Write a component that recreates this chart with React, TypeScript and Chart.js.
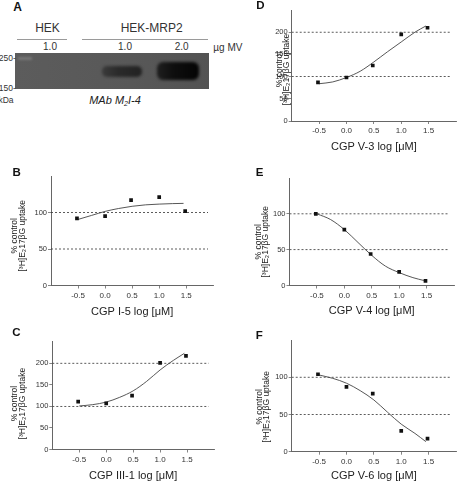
import React, { useEffect, useRef } from 'react';
import { Chart, registerables } from 'chart.js';

Chart.register(...registerables);

const FONT = "'Liberation Sans', Arial, Helvetica, sans-serif";
Chart.defaults.font.family = FONT;

// ---------- data ----------
const xTickValues = [-0.5, 0, 0.5, 1, 1.5];
const doseLog = [-0.52, 0, 0.48, 1, 1.48];
const fitX = [-0.5, -0.25, 0, 0.25, 0.5, 0.75, 1, 1.25, 1.45];
const refLineX = [-1, 1.9];
const yTicks150 = [0, 50, 100];
const yTicks250 = [0, 50, 100, 150, 200];
const yTitleLines = ['% control', '[³H]E₂17βG uptake'];

const uptakeB = [92, 95, 117, 121, 102];
const fitB = [90.5, 96, 101.5, 105.5, 108.5, 110.5, 111.5, 112.2, 112.5];
const refB = [50, 100];

const uptakeC = [111, 107, 125, 201, 217];
const fitC = [101, 104, 110, 121, 136, 158, 184.5, 207, 223];
const refC = [100, 200];

const uptakeD = [87, 98, 125, 195, 210];
const fitD = [84, 88, 98, 112, 133, 156, 178, 200, 214];
const refD = [100, 200];

const uptakeE = [100, 78, 44, 19, 6.5];
const fitE = [100, 92, 78, 60, 42, 27, 18, 11, 7];
const refE = [50, 100];

const uptakeF = [104, 87, 78, 28, 17.5];
const fitF = [103, 98.5, 92, 82, 69.5, 53, 37, 24.6, 13.5];
const refF = [50, 100];

const blotLanes = ['1.0', '1.0', '2.0'];

type Rect = { x: number; y: number; w: number; h: number };
type Area = { l: number; r: number; t: number; b: number };
type Panel = {
  key: string;
  xTitle: string;
  values: number[];
  fit: number[];
  refs: number[];
  yMax: number;
  yTicks: number[];
  canvas: Rect;
  area: Area;
  titlePad: number;
  yTitleX: number;
  yTitleDy: number;
  letter: { x: number; y: number };
};

const panels: Panel[] = [
  {
    key: 'D', xTitle: 'CGP V-3 log [μM]', values: uptakeD, fit: fitD, refs: refD,
    yMax: 250, yTicks: yTicks250,
    canvas: { x: 230, y: 0, w: 230, h: 160 },
    area: { l: 291.7, r: 456.7, t: 10, b: 121 },
    titlePad: 6, yTitleX: 279.5, yTitleDy: 4, letter: { x: 260.3, y: 5.6 },
  },
  {
    key: 'B', xTitle: 'CGP I-5 log [μM]', values: uptakeB, fit: fitB, refs: refB,
    yMax: 150, yTicks: yTicks150,
    canvas: { x: 0, y: 160, w: 230, h: 160 },
    area: { l: 51, r: 213.3, t: 176, b: 285.5 },
    titlePad: 1.1, yTitleX: 15, yTitleDy: 5, letter: { x: 16.7, y: 172.7 },
  },
  {
    key: 'E', xTitle: 'CGP V-4 log [μM]', values: uptakeE, fit: fitE, refs: refE,
    yMax: 150, yTicks: yTicks150,
    canvas: { x: 230, y: 160, w: 230, h: 160 },
    area: { l: 289.5, r: 454, t: 178, b: 285.5 },
    titlePad: 2.7, yTitleX: 258.3, yTitleDy: 10, letter: { x: 259.7, y: 172.7 },
  },
  {
    key: 'C', xTitle: 'CGP III-1 log [μM]', values: uptakeC, fit: fitC, refs: refC,
    yMax: 250, yTicks: yTicks250,
    canvas: { x: 0, y: 320, w: 230, h: 163 },
    area: { l: 52.3, r: 214, t: 341.7, b: 449.5 },
    titlePad: 0.4, yTitleX: 15, yTitleDy: 8, letter: { x: 16.3, y: 333.3 },
  },
  {
    key: 'F', xTitle: 'CGP V-6 log [μM]', values: uptakeF, fit: fitF, refs: refF,
    yMax: 150, yTicks: yTicks150,
    canvas: { x: 230, y: 320, w: 230, h: 163 },
    area: { l: 291.7, r: 458, t: 340, b: 451.7 },
    titlePad: 0, yTitleX: 259.3, yTitleDy: 11, letter: { x: 259.3, y: 336 },
  },
];

function DoseChart({ p }: { p: Panel }) {
  const ref = useRef<HTMLCanvasElement>(null);
  useEffect(() => {
    const el = ref.current;
    if (!el) return;
    const cv = p.canvas;
    const area = p.area;
    const yW = area.l - cv.x;
    const xH = cv.y + cv.h - area.b;
    const titleX = p.yTitleX - cv.x;

    const yTitlePlugin = {
      id: 'yTitle' + p.key,
      afterDraw(chart: any) {
        const { ctx, chartArea } = chart;
        ctx.save();
        ctx.font = `8.5px ${FONT}`;
        ctx.fillStyle = '#222';
        ctx.textAlign = 'center';
        ctx.textBaseline = 'middle';
        const cy = (chartArea.top + chartArea.bottom) / 2 + p.yTitleDy;
        yTitleLines.forEach((line, i) => {
          ctx.save();
          ctx.translate(titleX + i * 7.5, cy);
          ctx.rotate(-Math.PI / 2);
          ctx.fillText(line, 0, 0);
          ctx.restore();
        });
        ctx.restore();
      },
    };

    const axisColor = '#666';
    const chart = new Chart(el, {
      type: 'scatter',
      data: {
        datasets: [
          {
            label: 'measured',
            data: doseLog.map((x, i) => ({ x, y: p.values[i] })),
            pointStyle: 'rect',
            pointRadius: 2.6,
            pointBackgroundColor: '#111',
            pointBorderWidth: 0,
            showLine: false,
          },
          {
            label: 'fit',
            data: fitX.map((x, i) => ({ x, y: p.fit[i] })),
            showLine: true,
            pointRadius: 0,
            borderColor: '#444',
            borderWidth: 0.9,
            cubicInterpolationMode: 'monotone',
            tension: 0.4,
            fill: false,
          },
          ...p.refs.map((v) => ({
            label: 'ref' + v,
            data: refLineX.map((x) => ({ x, y: v })),
            showLine: true,
            pointRadius: 0,
            borderColor: '#333',
            borderWidth: 0.8,
            borderDash: [2, 2],
            fill: false,
          })),
        ] as any,
      },
      options: {
        responsive: false,
        animation: false,
        events: [],
        layout: {
          padding: { left: 0, top: area.t - cv.y, right: cv.x + cv.w - area.r, bottom: 0 },
        },
        plugins: {
          legend: { display: false },
          tooltip: { enabled: false },
        },
        scales: {
          x: {
            type: 'linear',
            min: -1,
            max: 2,
            afterBuildTicks: (s: any) => {
              s.ticks = xTickValues.map((value) => ({ value }));
            },
            afterFit: (s: any) => {
              s.height = xH;
            },
            ticks: {
              callback: (v: any) => Number(v).toFixed(1),
              font: { size: 8, family: FONT },
              color: '#333',
              padding: 2,
              maxRotation: 0,
              autoSkip: false,
            },
            grid: { drawOnChartArea: false, drawTicks: true, tickLength: 3, color: axisColor, lineWidth: 0.8 },
            border: { color: axisColor, width: 1 },
            title: {
              display: true,
              text: p.xTitle,
              font: { size: 11, family: FONT },
              color: '#222',
              padding: { top: 0, bottom: p.titlePad },
            },
          },
          y: {
            type: 'linear',
            min: 0,
            max: p.yMax,
            afterBuildTicks: (s: any) => {
              s.ticks = p.yTicks.map((value) => ({ value }));
            },
            afterFit: (s: any) => {
              s.width = yW;
            },
            ticks: {
              callback: (v: any) => String(v),
              font: { size: 7.5, family: FONT },
              color: '#333',
              padding: 1,
              autoSkip: false,
            },
            grid: { drawOnChartArea: false, drawTicks: true, tickLength: 3, color: axisColor, lineWidth: 0.8 },
            border: { color: axisColor, width: 1 },
          },
        },
      } as any,
      plugins: [yTitlePlugin],
    });
    return () => chart.destroy();
  }, []);
  return (
    <canvas
      ref={ref}
      width={p.canvas.w}
      height={p.canvas.h}
      style={{ position: 'absolute', left: p.canvas.x, top: p.canvas.y, width: p.canvas.w, height: p.canvas.h }}
    />
  );
}

function Txt(props: {
  x: number; y: number; size: number; children: any;
  bold?: boolean; italic?: boolean; align?: 'left' | 'center' | 'right'; color?: string;
}) {
  const { x, y, size, children, bold, italic, align = 'center', color = '#222' } = props;
  const tx = align === 'center' ? '-50%' : align === 'right' ? '-100%' : '0';
  return (
    <div
      style={{
        position: 'absolute', left: x, top: y, transform: `translate(${tx}, -50%)`,
        fontSize: size, lineHeight: `${size}px`, fontWeight: bold ? 700 : 400,
        fontStyle: italic ? 'italic' : 'normal', whiteSpace: 'nowrap', color, fontFamily: FONT,
      }}
    >
      {children}
    </div>
  );
}

const laneX = [50, 125, 181.7];

function Blot() {
  return (
    <>
      <Txt x={17.5} y={6.5} size={12} bold color="#111">A</Txt>
      <Txt x={47.5} y={28} size={12} color="#333">HEK</Txt>
      <Txt x={151.7} y={28} size={12} color="#333">HEK-MRP2</Txt>
      <div style={{ position: 'absolute', left: 16.7, top: 39, width: 50, height: 1.2, background: '#9a9a9a' }} />
      <div style={{ position: 'absolute', left: 81.7, top: 39, width: 126.6, height: 1.2, background: '#9a9a9a' }} />
      {blotLanes.map((t, i) => (
        <Txt key={i} x={laneX[i]} y={46.8} size={10} color="#333">{t}</Txt>
      ))}
      <Txt x={213.3} y={47.5} size={10} align="left" color="#333">µg MV</Txt>
      <div
        style={{
          position: 'absolute', left: 15, top: 52.7, width: 194.3, height: 36.6, overflow: 'hidden',
          background: 'linear-gradient(90deg, #5c5c5c 0%, #585858 60%, #535353 100%)',
        }}
      >
        <div style={{ position: 'absolute', left: 3, top: 4.5, width: 14, height: 2.5, background: '#777', filter: 'blur(1px)' }} />
        <div
          style={{
            position: 'absolute', left: 87, top: 13, width: 40, height: 11.5, borderRadius: 5,
            background: 'linear-gradient(90deg, #3a3a3a 0%, #2a2a2a 40%, #222 100%)', filter: 'blur(1.8px)',
          }}
        />
        <div
          style={{
            position: 'absolute', left: 141.5, top: 9, width: 42.5, height: 18.5, borderRadius: 6,
            background: 'linear-gradient(90deg, #1e1e1e 0%, #0e0e0e 40%, #040404 100%)', filter: 'blur(1.8px)',
          }}
        />
      </div>
      <Txt x={15.8} y={58.3} size={8.5} align="right" color="#333">250-</Txt>
      <Txt x={15.8} y={87.5} size={8.5} align="right" color="#333">150-</Txt>
      <Txt x={13.5} y={100} size={8.5} align="right" color="#333">kDa</Txt>
      <Txt x={115} y={100} size={11} italic color="#222">
        MAb M<sub style={{ fontSize: 7, verticalAlign: '-2px', lineHeight: 0 }}>2</sub>I-4
      </Txt>
    </>
  );
}

export default function App() {
  return (
    <div
      style={{
        position: 'absolute', left: 0, top: 0, width: 460, height: 483, background: '#fff',
        overflow: 'hidden', fontFamily: FONT,
      }}
    >
      <Blot />
      {panels.map((p) => (
        <DoseChart key={p.key} p={p} />
      ))}
      {panels.map((p) => (
        <Txt key={'L' + p.key} x={p.letter.x} y={p.letter.y} size={11.5} bold color="#111">{p.key}</Txt>
      ))}
    </div>
  );
}
